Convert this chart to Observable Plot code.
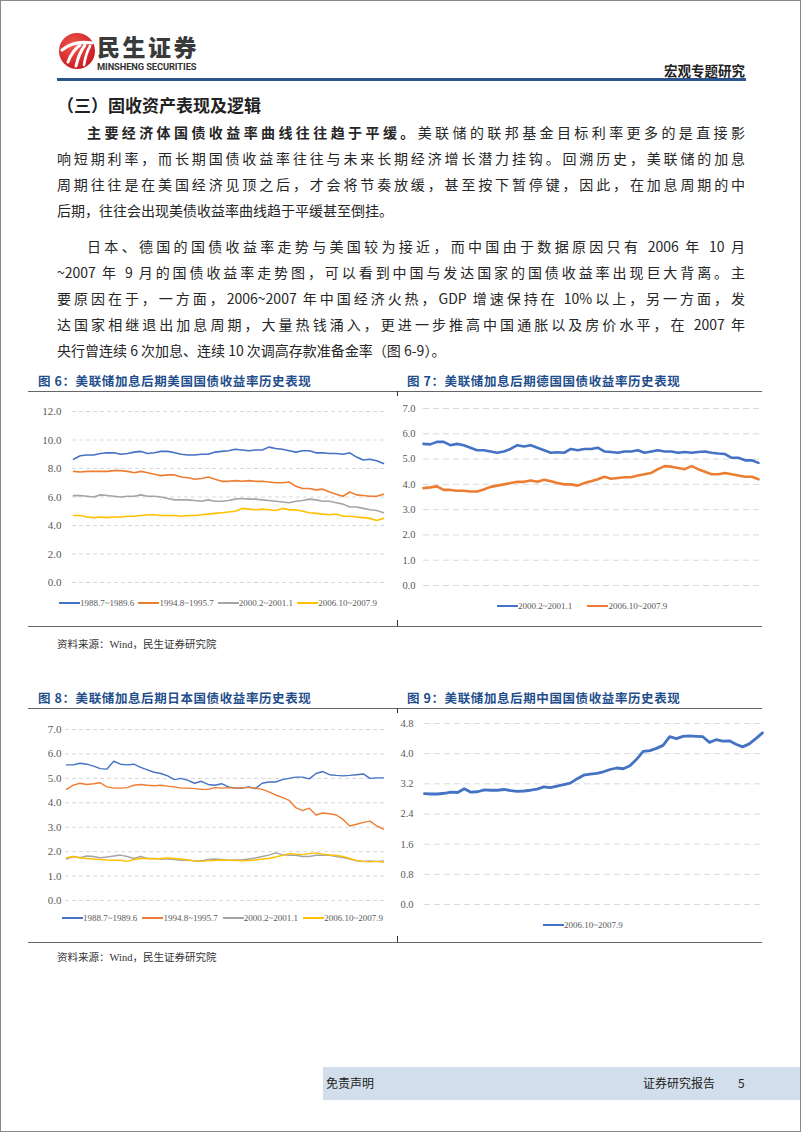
<!DOCTYPE html>
<html><head><meta charset="utf-8">
<script src="https://cdn.jsdelivr.net/npm/d3@7"></script>
<script src="https://cdn.jsdelivr.net/npm/@observablehq/plot@0.6"></script>
<style>
body{margin:0;background:#fff;}
#page{position:relative;width:802px;height:1133px;overflow:hidden;background:#fff;font-family:"Noto Sans CJK SC","Noto Sans",sans-serif;color:#262626;}
#page>*{position:absolute;}
.frame{left:0;top:0;width:799px;height:1130px;border:1.5px solid #8a8a8a;pointer-events:none;}
.tl{font-size:14px;line-height:20px;text-align:justify;text-align-last:justify;color:#262626;}
.last{text-align-last:left;}
.ct{font-size:12.5px;font-weight:700;color:#1F4E8C;letter-spacing:0.6px;line-height:16px;white-space:nowrap;}
.hr{height:1px;background:#666;}
.tick{width:1px;background:#333;}
.src{font-size:10.5px;color:#333;font-family:"Liberation Serif","Noto Sans CJK SC",serif;white-space:nowrap;line-height:14px;}
.lg{display:flex;align-items:center;font-family:"Liberation Serif",serif;font-size:9px;color:#595959;white-space:nowrap;line-height:12px;}
.lg .sw{display:inline-block;width:21px;margin-right:0;}
.lg .it{display:flex;align-items:center;}
</style></head>
<body>
<div id="page">
  <div class="frame"></div>
  <svg style="left:57px;top:31px" width="40" height="40" viewBox="0 0 40 40">
    <defs><radialGradient id="lgr" cx="40%" cy="35%" r="70%"><stop offset="0" stop-color="#F25A4E"/><stop offset="1" stop-color="#C8161E"/></radialGradient></defs>
    <circle cx="20" cy="20" r="18" fill="url(#lgr)"/>
    <path d="M5,19 Q17,9 35,12" stroke="#fff" stroke-width="3.2" fill="none" stroke-linecap="round"/>
    <path d="M11,31 Q15,20 23,14" stroke="#fff" stroke-width="3" fill="none" stroke-linecap="round"/>
    <path d="M19,35 Q22,22 28,14" stroke="#fff" stroke-width="3" fill="none" stroke-linecap="round"/>
    <path d="M27,34 Q29,22 33,15" stroke="#fff" stroke-width="2.6" fill="none" stroke-linecap="round"/>
  </svg>
  <div style="left:97px;top:34px;font-size:23px;font-weight:900;color:#3a3a3a;letter-spacing:2.5px;line-height:24px;height:24px;">民生证券</div>
  <div style="left:97px;top:62px;font-size:9.3px;font-weight:700;color:#333;line-height:10px;font-family:'Roboto','Liberation Sans',sans-serif;letter-spacing:-0.1px;">MINSHENG SECURITIES</div>
  <div style="left:664px;top:61px;font-size:13.5px;font-weight:700;color:#222;line-height:18px;">宏观专题研究</div>
  <div style="left:57px;top:78px;width:689px;height:2.5px;background:#2A5590;"></div>

  <div style="left:57px;top:94px;font-size:17px;font-weight:700;color:#222;line-height:22px;">（三）固收资产表现及逻辑</div>

  <div class="tl" style="left:87px;top:122px;width:658px;"><b>主要经济体国债收益率曲线往往趋于平缓。</b>美联储的联邦基金目标利率更多的是直接影</div>
  <div class="tl" style="left:57px;top:148px;width:688px;">响短期利率，而长期国债收益率往往与未来长期经济增长潜力挂钩。回溯历史，美联储的加息</div>
  <div class="tl" style="left:57px;top:174px;width:688px;">周期往往是在美国经济见顶之后，才会将节奏放缓，甚至按下暂停键，因此，在加息周期的中</div>
  <div class="tl last" style="left:57px;top:200px;width:688px;">后期，往往会出现美债收益率曲线趋于平缓甚至倒挂。</div>

  <div class="tl" style="left:87px;top:236px;width:658px;">日本、德国的国债收益率走势与美国较为接近，而中国由于数据原因只有 2006 年 10 月</div>
  <div class="tl" style="left:57px;top:262px;width:688px;">~2007 年 9 月的国债收益率走势图，可以看到中国与发达国家的国债收益率出现巨大背离。主</div>
  <div class="tl" style="left:57px;top:288px;width:688px;">要原因在于，一方面，2006~2007 年中国经济火热，GDP 增速保持在 10%以上，另一方面，发</div>
  <div class="tl" style="left:57px;top:314px;width:688px;">达国家相继退出加息周期，大量热钱涌入，更进一步推高中国通胀以及房价水平，在 2007 年</div>
  <div class="tl last" style="left:57px;top:340px;width:688px;">央行曾连续 6 次加息、连续 10 次调高存款准备金率（图 6-9）。</div>

  <div class="ct" style="left:38px;top:373px;">图 6：美联储加息后期美国国债收益率历史表现</div>
  <div class="ct" style="left:407px;top:373px;">图 7：美联储加息后期德国国债收益率历史表现</div>
  <div class="hr" style="left:28px;top:391px;width:734px;"></div>
  <div class="tick" style="left:397px;top:391px;height:5px;"></div>
  <div class="hr" style="left:28px;top:626px;width:734px;"></div>
  <div class="tick" style="left:397px;top:620px;height:6px;"></div>
  <div class="src" style="left:57px;top:638px;">资料来源：Wind，民生证券研究院</div>

  <div class="ct" style="left:38px;top:690px;">图 8：美联储加息后期日本国债收益率历史表现</div>
  <div class="ct" style="left:407px;top:690px;">图 9：美联储加息后期中国国债收益率历史表现</div>
  <div class="hr" style="left:28px;top:708px;width:734px;"></div>
  <div class="tick" style="left:397px;top:708px;height:5px;"></div>
  <div class="hr" style="left:28px;top:942px;width:734px;"></div>
  <div class="tick" style="left:397px;top:936px;height:6px;"></div>
  <div class="src" style="left:57px;top:951px;">资料来源：Wind，民生证券研究院</div>

  <div style="left:323px;top:1067px;width:477px;height:33px;background:#D2DEEB;">
    <div style="position:absolute;left:3px;top:8px;font-size:12px;color:#222;line-height:16px;white-space:nowrap;">免责声明</div>
    <div style="position:absolute;left:320px;top:8px;font-size:12px;color:#222;line-height:16px;white-space:nowrap;">证券研究报告</div>
    <div style="position:absolute;left:415px;top:8px;font-size:12px;color:#222;line-height:16px;">5</div>
  </div>

  <div id="c6" style="left:30px;top:400px;"></div>
  <div id="c7" style="left:400px;top:397px;"></div>
  <div id="c8" style="left:30px;top:718px;"></div>
  <div id="c9" style="left:400px;top:712px;"></div>
  <div id="l6" class="lg" style="left:59px;top:597px;"></div>
  <div id="l7" class="lg" style="left:497px;top:600px;"></div>
  <div id="l8" class="lg" style="left:62px;top:912px;"></div>
  <div id="l9" class="lg" style="left:543px;top:919px;"></div>
</div>
<script>
// ---- data ----
const seriesNames4 = ["1988.7~1989.6", "1994.8~1995.7", "2000.2~2001.1", "2006.10~2007.9"];
const seriesNamesDE = ["2000.2~2001.1", "2006.10~2007.9"];
const seriesNamesCN = ["2006.10~2007.9"];
const colors4 = ["#4472C4", "#ED7D31", "#A5A5A5", "#FFC000"];
const colorsDE = ["#4472C4", "#ED7D31"];
const colorsCN = ["#4472C4"];

const ticksUS = [0, 2, 4, 6, 8, 10, 12];
const ticksDE = [0, 1, 2, 3, 4, 5, 6, 7];
const ticksJP = [0, 1, 2, 3, 4, 5, 6, 7];
const ticksCN = [0, 0.8, 1.6, 2.4, 3.2, 4.0, 4.8];

// 图6 美国
const us1988 = [8.65,8.9,8.95,8.95,9.05,9.1,9.1,9.0,9.05,9.15,9.2,9.05,9.1,9.2,9.2,9.1,9.0,8.95,8.95,9.0,9.0,9.15,9.2,9.25,9.35,9.3,9.25,9.3,9.3,9.5,9.4,9.35,9.25,9.15,9.25,9.25,9.1,9.1,9.05,9.05,9.0,9.1,8.8,8.6,8.65,8.55,8.35];
const us1994 = [7.8,7.75,7.8,7.8,7.8,7.8,7.85,7.85,7.8,7.7,7.8,7.7,7.6,7.5,7.55,7.55,7.4,7.35,7.25,7.3,7.4,7.25,7.1,7.1,7.15,7.1,7.15,7.1,7.1,7.05,7.0,7.0,7.05,6.75,6.6,6.6,6.5,6.55,6.35,6.2,6.05,6.35,6.15,6.1,6.05,6.05,6.2];
const us2000 = [6.1,6.1,6.05,6.0,6.15,6.1,6.05,6.0,6.05,6.05,6.15,6.05,6.05,6.0,5.9,5.8,5.8,5.8,5.75,5.7,5.8,5.7,5.7,5.75,5.85,5.9,5.85,5.85,5.8,5.75,5.7,5.65,5.6,5.7,5.75,5.85,5.8,5.7,5.7,5.6,5.5,5.3,5.3,5.2,5.1,5.05,4.9];
const us2006 = [4.7,4.7,4.6,4.55,4.6,4.55,4.6,4.6,4.65,4.65,4.7,4.75,4.75,4.7,4.7,4.7,4.65,4.7,4.7,4.75,4.8,4.85,4.9,4.95,5.0,5.2,5.15,5.1,5.15,5.1,5.05,5.2,5.1,5.1,5.0,4.9,4.85,4.8,4.75,4.8,4.65,4.65,4.6,4.55,4.5,4.35,4.5];

// 图7 德国
const de2000 = [5.6,5.58,5.68,5.68,5.55,5.6,5.55,5.45,5.35,5.35,5.3,5.25,5.3,5.4,5.55,5.5,5.55,5.45,5.35,5.25,5.27,5.25,5.4,5.35,5.4,5.4,5.45,5.3,5.28,5.25,5.3,5.3,5.35,5.25,5.3,5.35,5.3,5.3,5.25,5.28,5.25,5.28,5.3,5.25,5.22,5.2,5.05,5.05,4.95,4.95,4.85];
const de2006 = [3.85,3.88,3.92,3.78,3.78,3.75,3.75,3.72,3.72,3.8,3.9,3.95,4.0,4.05,4.1,4.1,4.15,4.1,4.18,4.12,4.05,4.0,4.0,3.95,4.05,4.12,4.2,4.3,4.22,4.25,4.28,4.28,4.35,4.4,4.45,4.6,4.72,4.7,4.65,4.6,4.72,4.6,4.5,4.4,4.4,4.45,4.4,4.35,4.3,4.3,4.2];

// 图8 日本
const jp1988 = [5.55,5.55,5.62,5.58,5.5,5.4,5.38,5.7,5.58,5.55,5.58,5.45,5.35,5.25,5.2,5.1,4.95,5.0,4.92,4.8,4.88,4.75,4.72,4.78,4.65,4.6,4.6,4.65,4.58,4.8,4.85,4.85,4.95,5.0,5.05,5.05,4.98,5.2,5.28,5.15,5.12,5.1,5.12,5.15,5.18,5.0,5.02,5.02];
const jp1994 = [4.55,4.72,4.8,4.75,4.78,4.82,4.65,4.6,4.6,4.62,4.72,4.75,4.72,4.7,4.72,4.68,4.65,4.6,4.6,4.58,4.55,4.55,4.62,4.6,4.62,4.6,4.62,4.62,4.6,4.55,4.45,4.32,4.22,4.1,3.8,3.68,3.78,3.5,3.58,3.55,3.5,3.32,3.05,3.12,3.2,3.25,3.05,2.92];
const jp2000 = [1.7,1.8,1.75,1.82,1.8,1.75,1.78,1.82,1.86,1.8,1.72,1.8,1.72,1.72,1.7,1.7,1.68,1.65,1.65,1.62,1.62,1.68,1.7,1.68,1.65,1.66,1.66,1.7,1.74,1.8,1.86,1.95,1.88,1.85,1.85,1.8,1.8,1.85,1.86,1.85,1.8,1.76,1.7,1.62,1.6,1.62,1.6,1.62];
const jp2006 = [1.75,1.8,1.75,1.72,1.7,1.68,1.66,1.65,1.65,1.6,1.68,1.72,1.72,1.7,1.72,1.74,1.72,1.7,1.66,1.62,1.6,1.62,1.64,1.66,1.65,1.64,1.62,1.64,1.66,1.7,1.72,1.78,1.85,1.92,1.9,1.88,1.92,1.95,1.9,1.86,1.84,1.8,1.72,1.64,1.6,1.58,1.6,1.56];

// 图9 中国
const cn2006 = [2.94,2.93,2.93,2.95,2.98,2.97,3.07,2.98,2.99,3.04,3.03,3.03,3.05,3.02,3.0,3.01,3.03,3.06,3.12,3.1,3.14,3.18,3.22,3.33,3.43,3.46,3.48,3.52,3.58,3.62,3.6,3.68,3.85,4.06,4.08,4.14,4.22,4.45,4.4,4.46,4.47,4.46,4.45,4.3,4.37,4.33,4.34,4.25,4.18,4.26,4.4,4.55];

// ---- rendering ----
function toRows(arrs, names) {
  const rows = [];
  arrs.forEach((a, k) => a.forEach((v, i) => rows.push({i, v, s: names[k]})));
  return rows;
}
function drawChart(el, cfg) {
  const rows = toRows(cfg.series, cfg.names);
  const svg = Plot.plot({
    width: cfg.width, height: cfg.height,
    marginLeft: cfg.ml, marginRight: cfg.mr, marginTop: cfg.mt, marginBottom: cfg.mb,
    x: {domain: cfg.xdom, axis: null},
    y: {domain: [cfg.ticks[0], cfg.ticks[cfg.ticks.length - 1]], label: null},
    color: {domain: cfg.names, range: cfg.colors},
    style: {fontFamily: "'Liberation Serif', serif", fontSize: cfg.fs + "px", color: "#595959", background: "transparent", overflow: "visible"},
    marks: [
      Plot.ruleY(cfg.ticks, {stroke: "#D9D9D9", strokeWidth: 1, strokeDasharray: cfg.dash}),
      Plot.axisY({ticks: cfg.ticks, tickSize: 0, tickPadding: cfg.pad, tickFormat: d => d.toFixed(1), label: null}),
      Plot.line(rows, {x: "i", y: "v", z: "s", stroke: "s", strokeWidth: cfg.sw, curve: "linear"})
    ]
  });
  document.getElementById(el).appendChild(svg);
}
function drawLegend(el, names, colors, sw, gaps) {
  const box = document.getElementById(el);
  names.forEach((n, k) => {
    const it = document.createElement("span");
    it.className = "it";
    if (k > 0) it.style.marginLeft = gaps + "px";
    it.innerHTML = `<span class="sw" style="height:${sw}px;background:${colors[k]}"></span><span>${n}</span>`;
    box.appendChild(it);
  });
}

drawChart("c6", {series: [us1988, us1994, us2000, us2006], names: seriesNames4, colors: colors4,
  ticks: ticksUS, width: 365, height: 190, ml: 42, mr: 8, mt: 11, mb: 8,
  xdom: [-0.15, 46.6], fs: 11, pad: 11, sw: 1.6, dash: "4,3"});
drawChart("c7", {series: [de2000, de2006], names: seriesNamesDE, colors: colorsDE,
  ticks: ticksDE, width: 365, height: 196, ml: 23, mr: 6, mt: 11, mb: 8,
  xdom: [0, 50.15], fs: 10.5, pad: 8, sw: 2.6, dash: "6,4"});
drawChart("c8", {series: [jp1988, jp1994, jp2000, jp2006], names: seriesNames4, colors: colors4,
  ticks: ticksJP, width: 365, height: 190, ml: 35, mr: 11, mt: 11, mb: 8,
  xdom: [-0.15, 47.15], fs: 11, pad: 4, sw: 1.4, dash: "4,3"});
drawChart("c9", {series: [cn2006], names: seriesNamesCN, colors: colorsCN,
  ticks: ticksCN, width: 365, height: 200, ml: 24, mr: 3, mt: 11, mb: 8,
  xdom: [0, 51], fs: 10.5, pad: 11, sw: 2.8, dash: "6,4"});

drawLegend("l6", seriesNames4, colors4, 1.6, 4);
drawLegend("l7", seriesNamesDE, colorsDE, 2.6, 15);
drawLegend("l8", seriesNames4, colors4, 1.6, 5);
drawLegend("l9", seriesNamesCN, colorsCN, 2.8, 0);
</script>
</body></html>
